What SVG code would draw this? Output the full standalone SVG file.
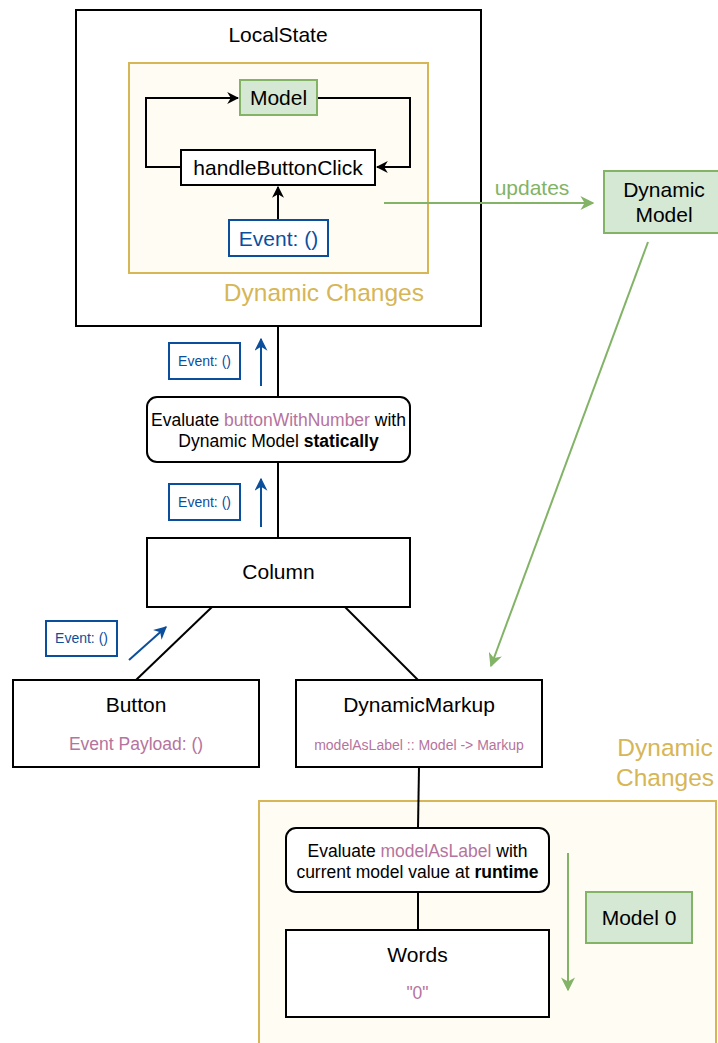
<svg xmlns="http://www.w3.org/2000/svg" width="718" height="1043" viewBox="0 0 718 1043">
  <defs>
    <style>
      text { font-family: "Liberation Sans", Arial, sans-serif; }
      .box { fill: #ffffff; stroke: #000000; stroke-width: 2; }
      .zone { fill: #fffcf4; stroke: #d6b656; stroke-width: 2; }
      .model { fill: #d5e8d4; stroke: #82b366; stroke-width: 2; }
      .evt { fill: #ffffff; stroke: #0b4f9c; stroke-width: 2; }
      .t20 { font-size: 21px; fill: #000000; text-anchor: middle; }
      .t16 { font-size: 17.500px; fill: #000000; text-anchor: middle; }
      .tevt { font-size: 14px; fill: #0b4f9c; text-anchor: middle; }
      .tzone { font-size: 24.500px; fill: #d6b656; }
      .pink { fill: #b5739d; }
      .line { fill: none; stroke: #000000; stroke-width: 2; }
      .blue { fill: none; stroke: #0b4f9c; stroke-width: 2; }
      .green { fill: none; stroke: #82b366; stroke-width: 2; }
    </style>
    <marker id="arrBlack" viewBox="0 0 10 10" refX="9" refY="5" markerWidth="12" markerHeight="12" markerUnits="userSpaceOnUse" orient="auto">
      <path d="M0,0 L10,5 L0,10 L3,5 Z" fill="#000000"/>
    </marker>
    <marker id="arrBlue" viewBox="0 0 10 10" refX="9" refY="5" markerWidth="13" markerHeight="13" markerUnits="userSpaceOnUse" orient="auto">
      <path d="M0,0 L10,5 L0,10 L3,5 Z" fill="#0b4f9c"/>
    </marker>
    <marker id="arrGreen" viewBox="0 0 10 10" refX="9" refY="5" markerWidth="14" markerHeight="14" markerUnits="userSpaceOnUse" orient="auto">
      <path d="M0,0 L10,5 L0,10 L3,5 Z" fill="#82b366"/>
    </marker>
  </defs>

  <!-- lower runtime zone -->
  <g id="runtime-zone">
    <rect class="zone" x="259" y="801" width="457" height="250"/>
    <text class="tzone" x="665" y="756" text-anchor="middle">Dynamic</text>
    <text class="tzone" x="665" y="786" text-anchor="middle">Changes</text>
  </g>

  <!-- LocalState container -->
  <g id="local-state">
    <rect class="box" x="76" y="10" width="405" height="316"/>
    <text class="t20" x="278" y="42">LocalState</text>
  </g>

  <g id="static-zone">
    <rect class="zone" x="129" y="63" width="299" height="210"/>
    <text class="tzone" x="424" y="301" text-anchor="end">Dynamic Changes</text>
  </g>

  <!-- connectors -->
  <g id="connectors">
    <path class="line" d="M181,167 H146 V98 H238" marker-end="url(#arrBlack)"/>
    <path class="line" d="M317,98 H410 V167 H377" marker-end="url(#arrBlack)"/>
    <path class="line" d="M278,220 V187" marker-end="url(#arrBlack)"/>
    <path class="green" d="M384,203 H593" marker-end="url(#arrGreen)"/>
    <path class="green" d="M648,242 L491,666" marker-end="url(#arrGreen)"/>
    <path class="line" d="M278,326 V397"/>
    <path class="line" d="M278,462 V538"/>
    <path class="line" d="M212,607 L136,680"/>
    <path class="line" d="M345,607 L418,680"/>
    <path class="line" d="M419,767 L418,828"/>
    <path class="line" d="M418,892 V930"/>
    <path class="blue" d="M261,386 V339" marker-end="url(#arrBlue)"/>
    <path class="blue" d="M261,527 V479" marker-end="url(#arrBlue)"/>
    <path class="blue" d="M129,660 L166,627" marker-end="url(#arrBlue)"/>
    <path class="green" d="M568,853 V990" marker-end="url(#arrGreen)"/>
    <text x="532" y="195" font-size="21" fill="#82b366" text-anchor="middle">updates</text>
  </g>

  <g id="model">
    <rect class="model" x="240" y="80" width="77" height="35"/>
    <text class="t20" x="278.500" y="105">Model</text>
  </g>

  <g id="handle-button-click">
    <rect class="box" x="181" y="150" width="194" height="35"/>
    <text class="t20" x="278" y="175">handleButtonClick</text>
  </g>

  <g id="event-main">
    <rect class="evt" x="229" y="220" width="99" height="36"/>
    <text class="t20" x="278.500" y="246" style="fill:#0b4f9c">Event: ()</text>
  </g>

  <g id="dynamic-model">
    <rect class="model" x="604" y="171" width="122" height="62"/>
    <text class="t20" x="664" y="197">Dynamic</text>
    <text class="t20" x="664" y="222">Model</text>
  </g>

  <g id="event-1">
    <rect class="evt" x="169" y="343" width="71" height="36"/>
    <text class="tevt" x="204.500" y="366">Event: ()</text>
  </g>

  <g id="evaluate-static">
    <rect class="box" x="147" y="397" width="263" height="65" rx="10"/>
    <text class="t16" x="278.500" y="426">Evaluate <tspan class="pink">buttonWithNumber</tspan> with</text>
    <text class="t16" x="278.500" y="447">Dynamic Model <tspan font-weight="bold">statically</tspan></text>
  </g>

  <g id="event-2">
    <rect class="evt" x="169" y="484" width="71" height="36"/>
    <text class="tevt" x="204.500" y="507">Event: ()</text>
  </g>

  <g id="column">
    <rect class="box" x="147" y="538" width="263" height="69"/>
    <text class="t20" x="278.500" y="579">Column</text>
  </g>

  <g id="event-3">
    <rect class="evt" x="46" y="621" width="71" height="35"/>
    <text class="tevt" x="81.500" y="643">Event: ()</text>
  </g>

  <g id="button">
    <rect class="box" x="13" y="680" width="246" height="87"/>
    <text class="t20" x="136" y="712">Button</text>
    <text class="t16 pink" x="136" y="750">Event Payload: ()</text>
  </g>

  <g id="dynamic-markup">
    <rect class="box" x="296" y="680" width="246" height="87"/>
    <text class="t20" x="419" y="712">DynamicMarkup</text>
    <text class="pink" x="419" y="750" font-size="14" text-anchor="middle">modelAsLabel :: Model -&gt; Markup</text>
  </g>

  <g id="evaluate-runtime">
    <rect class="box" x="286" y="828" width="263" height="64" rx="10"/>
    <text class="t16" x="417.500" y="857">Evaluate <tspan class="pink">modelAsLabel</tspan> with</text>
    <text class="t16" x="417.500" y="878">current model value at <tspan font-weight="bold">runtime</tspan></text>
  </g>

  <g id="words">
    <rect class="box" x="286" y="930" width="263" height="87"/>
    <text class="t20" x="417.500" y="962">Words</text>
    <text class="t16 pink" x="417.500" y="999">"0"</text>
  </g>

  <g id="model-0">
    <rect class="model" x="586" y="892" width="106" height="51"/>
    <text class="t20" x="639" y="925">Model 0</text>
  </g>
</svg>
